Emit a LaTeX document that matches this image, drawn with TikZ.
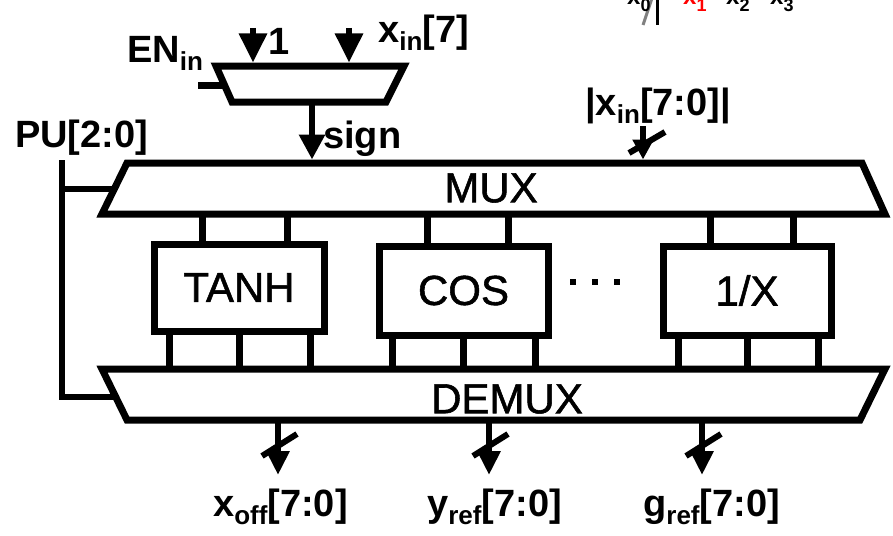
\documentclass[tikz,border=0pt]{standalone}
\usepackage{fontspec}
\setmainfont{Liberation Sans}
\newfontfamily\medfont[FakeBold=1.3]{Liberation Sans}
\usetikzlibrary{arrows.meta}
\newcommand\lbsub[1]{\raisebox{-8pt}{\fontsize{26}{26}\selectfont #1}}
\newcommand\frsub[1]{\raisebox{-7pt}{\fontsize{18}{18}\selectfont #1}}
\begin{document}
\begin{tikzpicture}[x=1pt,y=-1pt,
  edge/.style={line width=7pt,line join=miter},
  stub/.style={line width=7pt},
  box/.style={draw,line width=7pt,inner sep=0pt,font=\medfont\fontsize{42}{42}\selectfont},
  boxtext/.style={inner sep=0pt,font=\medfont\fontsize{42}{42}\selectfont},
  lbl/.style={inner sep=0pt,anchor=base west,font=\bfseries\fontsize{38}{38}\selectfont},
  frag/.style={inner sep=0pt,anchor=base west,font=\bfseries\fontsize{24}{24}\selectfont},
  bigarrow/.style={line width=6pt,-{Triangle[width=27pt,length=29pt]}},
  busarrow/.style={line width=6pt,-{Triangle[width=22pt,length=24pt]}},
  slashmark/.style={line width=6pt},
  puline/.style={line width=6.5pt,line join=miter},
]
\useasboundingbox (0,0) rectangle (893,535);

% ---- fragment at the top right (cut off) ----
\coordinate (fv-top) at (657,-2);
\coordinate (fv-bot) at (657,25);
\draw[line width=3pt] (fv-top) -- (fv-bot);
\coordinate (fg-top) at (652,-2);
\coordinate (fg-bot) at (643,25);
\draw[line width=3pt,gray] (fg-top) -- (fg-bot);
\node[frag] (x0) at (627,5) {x\frsub{0}};
\node[frag,text=red] (x1) at (683,5) {x\frsub{1}};
\node[frag] (x2) at (726,5) {x\frsub{2}};
\node[frag] (x3) at (770,5) {x\frsub{3}};

% ---- small sign mux ----
\coordinate (sm-tl) at (216,66);
\coordinate (sm-tr) at (404,66);
\coordinate (sm-br) at (386,102);
\coordinate (sm-bl) at (232,102);
\draw[edge] (sm-tl) -- (sm-tr) -- (sm-br) -- (sm-bl) -- cycle;
\path (sm-tl) -- (sm-bl) coordinate[pos=0.53] (sm-en);
\coordinate (en-l) at (198,85);
\draw[stub] (en-l) -- (en-l -| sm-en);

\coordinate (one-src) at (253,28);
\coordinate (one-dst) at (253,62.5);
\draw[bigarrow] (one-src) -- (one-dst);
\coordinate (x7-src) at (349,28);
\coordinate (x7-dst) at (349,62.5);
\draw[bigarrow] (x7-src) -- (x7-dst);

\node[lbl] (en) at (127,63) {EN\lbsub{in}};
\node[lbl] (one) at (268,55) {1};
\node[lbl] (x7) at (378,43) {x\lbsub{in}[7]};

% ---- MUX ----
\coordinate (mux-tl) at (127,163);
\coordinate (mux-tr) at (862,163);
\coordinate (mux-br) at (885,214);
\coordinate (mux-bl) at (102,214);
\draw[edge] (mux-tl) -- (mux-tr) -- (mux-br) -- (mux-bl) -- cycle;
\node[boxtext] (mux) at (491,188) {MUX};

\coordinate (sm-out) at (312,102);
\coordinate (sign-in) at (312,159.5);
\draw[busarrow,-{Triangle[width=25pt,length=25pt]}] (sm-out) -- (sign-in);
\node[lbl] (sign) at (323,148) {sign};

% ---- DEMUX ----
\coordinate (dmx-tl) at (102,369);
\coordinate (dmx-tr) at (885,369);
\coordinate (dmx-br) at (860,420);
\coordinate (dmx-bl) at (127,420);
\draw[edge] (dmx-tl) -- (dmx-tr) -- (dmx-br) -- (dmx-bl) -- cycle;
\node[boxtext] (demux) at (507,399) {DEMUX};

% ---- function blocks ----
\node[box,minimum width=170pt,minimum height=87pt] (tanh) at (239,287.5) {TANH};
\node[box,minimum width=169pt,minimum height=89pt] (cos) at (463.5,290.5) {COS};
\node[box,minimum width=168pt,minimum height=89pt] (inv) at (747,290.5) {1/X};

\coordinate (muxb) at (0,214);
\coordinate (dmxt) at (0,369);
\foreach \n/\dx in {tanh/-37,tanh/48,cos/-36.5,cos/44.5,inv/-37,inv/46}
  \draw[stub] (\n.north) ++(\dx,0) coordinate (s) -- (s |- muxb);
\foreach \n/\dx in {tanh/-70,tanh/0,tanh/71,cos/-71.5,cos/0,cos/71.5,inv/-69,inv/0,inv/71}
  \draw[stub] (\n.south) ++(\dx,0) coordinate (s) -- (s |- dmxt);

\foreach \x [count=\i] in {573,595,617}
  \fill (\x-2.7,279.3) rectangle (\x+2.7,284.7) coordinate (dot\i);

% ---- PU control ----
\path (mux-tl) -- (mux-bl) coordinate[pos=0.51] (mux-in);
\path (dmx-tl) -- (dmx-bl) coordinate[pos=0.55] (dmx-in);
\coordinate (pu-top) at (62,160);
\draw[puline] (pu-top) -- (pu-top |- dmx-in) -- (dmx-in);
\draw[puline] (pu-top |- mux-in) -- (mux-in);
\node[lbl] (pu) at (15,147) {PU[2:0]};

% ---- |x_in| bus input ----
\coordinate (xa-src) at (643,126);
\coordinate (xa-dst) at (643,159.5);
\draw[busarrow,-{Triangle[width=20pt,length=20pt]}] (xa-src) -- (xa-dst);
\coordinate (xa-s1) at (629,153);
\coordinate (xa-s2) at (665,132);
\draw[slashmark] (xa-s1) -- (xa-s2);
\node[lbl] (xabs) at (585,115) {|x\lbsub{in}[7:0]|};

% ---- outputs ----
\foreach \nm/\x in {xo/278,yo/489,go/702}{
  \coordinate (\nm-src) at (\x,423);
  \coordinate (\nm-dst) at (\x,475);
  \draw[busarrow] (\nm-src) -- (\nm-dst);
  \coordinate (\nm-s1) at (\x-16,456);
  \coordinate (\nm-s2) at (\x+19,434);
  \draw[slashmark] (\nm-s1) -- (\nm-s2);
}
\node[lbl] (xoff) at (213,516) {x\lbsub{off}[7:0]};
\node[lbl] (yref) at (427,516) {y\lbsub{ref}[7:0]};
\node[lbl] (gref) at (643,516) {g\lbsub{ref}[7:0]};
\end{tikzpicture}
\end{document}
